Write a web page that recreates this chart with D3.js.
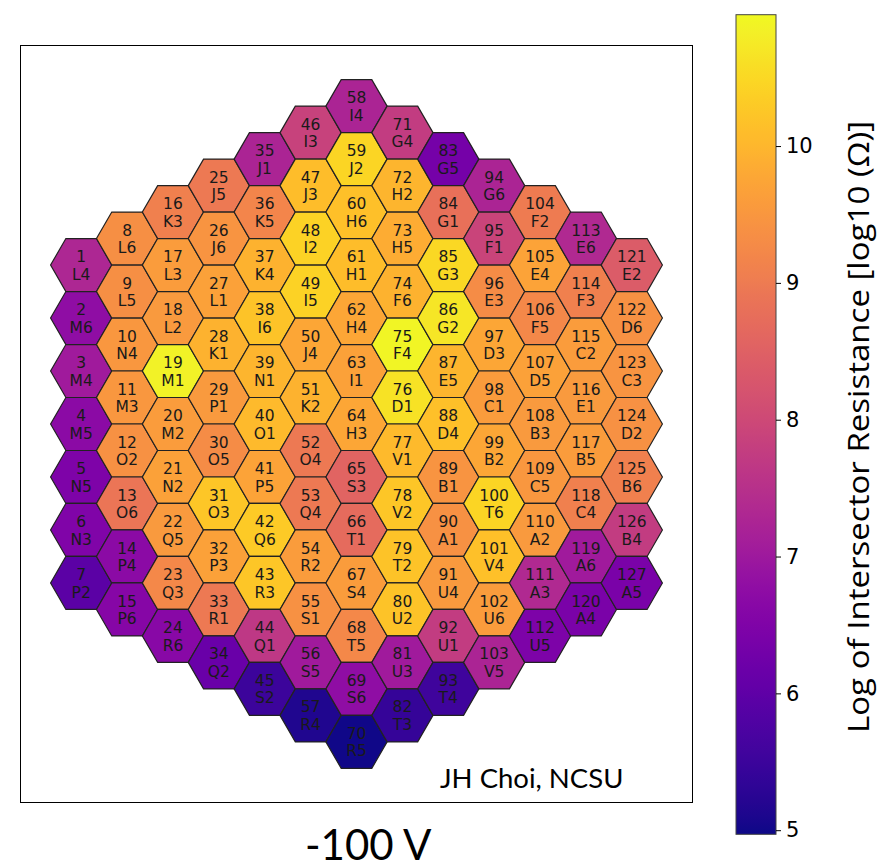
<!DOCTYPE html>
<html>
<head>
<meta charset="utf-8">
<script src="https://cdn.jsdelivr.net/npm/d3@7"></script>
<style>
    body { margin: 0; background: #fff; }
    svg { display: block; }
</style>
</head>
<body>
<div id="chart"></div>
<script>
// Sector codes, one array per hex column (left to right, each top to bottom)
const codes = [
    ["L4", "M6", "M4", "M5", "N5", "N3", "P2"],
    ["L6", "L5", "N4", "M3", "O2", "O6", "P4", "P6"],
    ["K3", "L3", "L2", "M1", "M2", "N2", "Q5", "Q3", "R6"],
    ["J5", "J6", "L1", "K1", "P1", "O5", "O3", "P3", "R1", "Q2"],
    ["J1", "K5", "K4", "I6", "N1", "O1", "P5", "Q6", "R3", "Q1", "S2"],
    ["I3", "J3", "I2", "I5", "J4", "K2", "O4", "Q4", "R2", "S1", "S5", "R4"],
    ["I4", "J2", "H6", "H1", "H4", "I1", "H3", "S3", "T1", "S4", "T5", "S6", "R5"],
    ["G4", "H2", "H5", "F6", "F4", "D1", "V1", "V2", "T2", "U2", "U3", "T3"],
    ["G5", "G1", "G3", "G2", "E5", "D4", "B1", "A1", "U4", "U1", "T4"],
    ["G6", "F1", "E3", "D3", "C1", "B2", "T6", "V4", "U6", "V5"],
    ["F2", "E4", "F5", "D5", "B3", "C5", "A2", "A3", "U5"],
    ["E6", "F3", "C2", "E1", "B5", "C4", "A6", "A4"],
    ["E2", "D6", "C3", "D2", "B6", "B4", "A5"]
];

const logR = [
    [7.3, 6.75, 7.05, 6.7, 6.47, 6.5, 5.93],
    [9.35, 9.35, 9.5, 9.5, 9.4, 8.9, 6.7, 6.6],
    [9.1, 9.6, 9.55, 10.85, 9.6, 9.65, 9.55, 9.25, 6.65],
    [8.95, 9.45, 9.65, 9.95, 9.55, 9.3, 10.25, 9.65, 8.95, 6.15],
    [7.25, 9.2, 9.95, 10.2, 10.0, 10.05, 9.7, 10.3, 10.25, 7.65, 5.5],
    [7.85, 10.1, 10.4, 10.4, 9.75, 9.95, 8.95, 8.95, 9.6, 9.4, 7.05, 5.15],
    [7.25, 10.45, 10.15, 10.1, 9.75, 9.65, 9.75, 8.55, 8.7, 9.6, 9.25, 6.75, 5.0],
    [7.75, 10.0, 9.85, 9.95, 10.9, 10.65, 10.05, 10.25, 10.2, 10.2, 7.05, 5.4],
    [6.35, 8.8, 10.5, 10.7, 10.0, 10.15, 9.45, 9.4, 9.55, 7.75, 5.55],
    [7.25, 7.9, 9.3, 9.75, 9.6, 9.75, 10.45, 10.15, 9.6, 7.25],
    [9.0, 9.7, 9.25, 9.65, 9.55, 9.5, 9.55, 7.35, 6.45],
    [7.35, 9.1, 9.6, 9.55, 9.6, 9.1, 7.05, 6.4],
    [8.4, 9.4, 9.45, 9.4, 9.1, 7.75, 6.4]
];

const cbTicks = [5, 6, 7, 8, 9, 10];
const cbDomain = [4.97, 10.96];

const width = 878, height = 868;

let svg = d3.select("#chart")
    .append("svg")
    .attr("width", width)
    .attr("height", height);

// Flatten into hex cells with centres in hex units (radius 1, flat top)
let cells = [];
let id = 1;
codes.forEach(function (col, c) {
    const n = col.length;
    col.forEach(function (code, k) {
        cells.push({
            id: id++,
            code: code,
            value: logR[c][k],
            cx: (c - 6) * 1.5,
            cy: (k - (n - 1) / 2) * Math.sqrt(3)
        });
    });
});

// Axes box scales (equal aspect)
let x = d3.scaleLinear().domain([-11, 11]).range([20, 693]);
let y = d3.scaleLinear().domain([-12.39, 12.39]).range([45, 803]);

let color = d3.scaleSequential(d3.interpolatePlasma).domain(cbDomain);

// Frame
svg.append("rect")
    .attr("x", 20.5).attr("y", 45.5)
    .attr("width", 672).attr("height", 757)
    .attr("fill", "none")
    .attr("stroke", "#000")
    .attr("stroke-width", 1);

function hexPath(d) {
    let pts = d3.range(6).map(function (i) {
        const a = Math.PI / 3 * i;
        return [x(d.cx + Math.cos(a)), y(d.cy + Math.sin(a))];
    });
    return "M" + pts.join("L") + "Z";
}

let hex = svg.append("g").selectAll("g")
    .data(cells)
    .enter()
    .append("g");

hex.append("path")
    .attr("d", hexPath)
    .attr("fill", function (d) { return color(d.value); })
    .attr("stroke", "#222")
    .attr("stroke-width", 1.2);

hex.append("text")
    .attr("x", function (d) { return x(d.cx); })
    .attr("y", function (d) { return y(d.cy) - 8.5; })
    .attr("dy", "0.36em")
    .style("text-anchor", "middle")
    .style("font-family", "DejaVu Sans")
    .style("font-size", "15.5px")
    .style("fill", "#1a1a1a")
    .text(function (d) { return d.id; });

hex.append("text")
    .attr("x", function (d) { return x(d.cx); })
    .attr("y", function (d) { return y(d.cy) + 9; })
    .attr("dy", "0.36em")
    .style("text-anchor", "middle")
    .style("font-family", "DejaVu Sans")
    .style("font-size", "15.5px")
    .style("fill", "#1a1a1a")
    .text(function (d) { return d.code; });

// Annotations
svg.append("text")
    .attr("x", 440).attr("y", 788)
    .style("font-family", "Lato")
    .style("font-size", "27.5px")
    .style("fill", "#000")
    .text("JH Choi, NCSU");

svg.append("text")
    .attr("x", 305).attr("y", 860)
    .style("font-family", "Lato")
    .style("font-size", "42px")
    .style("fill", "#000")
    .text("-100 V");

// Colorbar
let cbY = d3.scaleLinear().domain(cbDomain).range([834.3, 14.7]);

let grad = svg.append("defs").append("linearGradient")
    .attr("id", "plasma")
    .attr("x1", 0).attr("y1", 1)
    .attr("x2", 0).attr("y2", 0);
grad.selectAll("stop")
    .data(d3.range(0, 1.0001, 0.02))
    .enter()
    .append("stop")
    .attr("offset", function (t) { return t; })
    .attr("stop-color", function (t) { return d3.interpolatePlasma(t); });

svg.append("rect")
    .attr("x", 736).attr("y", cbY(cbDomain[1]))
    .attr("width", 40)
    .attr("height", cbY(cbDomain[0]) - cbY(cbDomain[1]))
    .attr("fill", "url(#plasma)")
    .attr("stroke", "#444")
    .attr("stroke-width", 1);

let cbAxis = svg.append("g")
    .attr("transform", "translate(776,0)")
    .call(d3.axisRight(cbY).tickValues(cbTicks).tickSize(5).tickPadding(5)
        .tickFormat(d3.format("d")));
cbAxis.select(".domain").remove();
cbAxis.selectAll("text")
    .style("font-family", "DejaVu Sans")
    .style("font-size", "21px")
    .style("fill", "#000");

svg.append("text")
    .attr("transform", "translate(869, 427) rotate(-90)")
    .style("text-anchor", "middle")
    .style("font-family", "Open Sans")
    .style("font-size", "29px")
    .attr("textLength", 612)
    .attr("lengthAdjust", "spacingAndGlyphs")
    .style("fill", "#000")
    .text("Log of Intersector Resistance [log10 (\u03a9)]");
</script>
</body>
</html>
